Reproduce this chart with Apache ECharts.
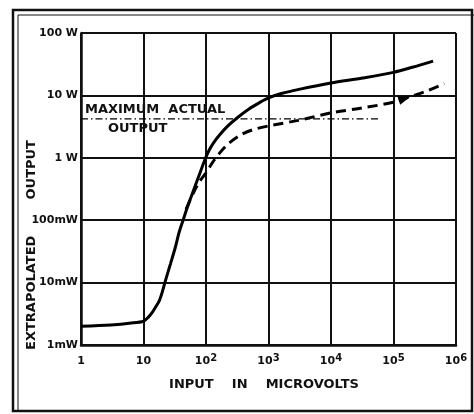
<!DOCTYPE html>
<html>
<head>
<meta charset="utf-8">
<script src="https://cdn.jsdelivr.net/npm/echarts@6/dist/echarts.min.js"></script>
<style>
  html, body { margin: 0; padding: 0; background: #fff; }
  #chart { width: 474px; height: 414px; }
</style>
</head>
<body>
<div id="chart"></div>
<script>
// Input level in microvolts vs. extrapolated output power in watts
const solidCurve = [
  [1, 0.002], [3, 0.00209], [6, 0.00224], [10, 0.0024], [12, 0.0028],
  [14, 0.0034], [16, 0.0042], [18, 0.0052], [20, 0.0071], [23, 0.0117],
  [27, 0.02], [32, 0.0355], [37, 0.063], [43, 0.1], [50, 0.158],
  [63, 0.3], [79, 0.55], [96, 0.93], [112, 1.32], [132, 1.74],
  [166, 2.34], [224, 3.24], [324, 4.47], [500, 6.17], [708, 7.6],
  [1000, 9.1], [1600, 10.7], [3200, 12.6], [10000, 15.8], [32000, 19],
  [100000, 23.4], [200000, 28.2], [430000, 35.5]
];
const dashedCurve = [
  [48, 0.15], [63, 0.275], [79, 0.417], [100, 0.575], [126, 0.83],
  [166, 1.2], [224, 1.66], [347, 2.29], [562, 2.82], [1000, 3.24],
  [3000, 3.98], [10000, 5.25], [32000, 6.3], [100000, 7.76],
  [160000, 9.1], [320000, 11.5], [650000, 15.5]
];
const maxActualOutput = [[1, 4.2], [60000, 4.2]];
const arrowPoint = [150000, 8.9];
const yTickLabels = { '-3': '1mW', '-2': '10mW', '-1': '100mW', '0': '1 W', '1': '10 W', '2': '100 W' };
const xTitle = 'INPUT    IN    MICROVOLTS';
const yTitle = 'EXTRAPOLATED        OUTPUT';
const noteLines = ['MAXIMUM  ACTUAL', 'OUTPUT'];

const font = '"DejaVu Sans", "Liberation Sans", sans-serif';
const ink = '#111';
const chart = echarts.init(document.getElementById('chart'), null, { renderer: 'canvas' });

chart.setOption({
  backgroundColor: '#ffffff',
  animation: false,
  grid: { left: 81, right: 18, top: 33, bottom: 69, show: false },
  graphic: [
    // double page frame
    { type: 'rect', shape: { x: 13, y: 10, width: 459, height: 401 },
      style: { fill: 'none', stroke: ink, lineWidth: 2.5 } },
    { type: 'polyline', shape: { points: [[18, 410], [18, 15], [474, 15]] },
      style: { fill: 'none', stroke: ink, lineWidth: 1 } },
    { type: 'text', x: 85, y: 103,
      style: { text: noteLines[0], fill: ink, font: 'bold 13px ' + font } },
    { type: 'text', x: 108, y: 122,
      style: { text: noteLines[1], fill: ink, font: 'bold 13px ' + font } },
    { type: 'text', x: 32, y: 245, rotation: Math.PI / 2,
      style: { text: yTitle, fill: ink, font: 'bold 13px ' + font,
               textAlign: 'center', textVerticalAlign: 'middle' } },
    { type: 'text', x: 264, y: 385,
      style: { text: xTitle, fill: ink, font: 'bold 13px ' + font,
               textAlign: 'center', textVerticalAlign: 'middle' } }
  ],
  xAxis: {
    type: 'log', logBase: 10, min: 1, max: 1000000,
    axisLine: { show: true, lineStyle: { color: ink, width: 2.5 } },
    axisTick: { show: false },
    splitLine: { show: true, lineStyle: { color: ink, width: 2 } },
    axisLabel: {
      color: ink, fontFamily: font, fontWeight: 'bold', fontSize: 11, margin: 8,
      formatter: function (v) {
        const e = Math.round(Math.log10(v));
        if (e === 0) return '{b|1}';
        if (e === 1) return '{b|10}';
        return '{b|10}{s|' + e + '}';
      },
      rich: {
        b: { fontSize: 11, fontWeight: 'bold', fontFamily: font, color: ink,
             verticalAlign: 'bottom', lineHeight: 14 },
        s: { fontSize: 10, fontWeight: 'bold', fontFamily: font, color: ink,
             verticalAlign: 'top', lineHeight: 12 }
      }
    }
  },
  yAxis: {
    type: 'log', logBase: 10, min: 0.001, max: 100,
    axisLine: { show: true, lineStyle: { color: ink, width: 2.5 } },
    axisTick: { show: false },
    splitLine: { show: true, lineStyle: { color: ink, width: 2 } },
    axisLabel: {
      color: ink, fontFamily: font, fontWeight: 'bold', fontSize: 11, margin: 3,
      formatter: function (v) { return yTickLabels[String(Math.round(Math.log10(v)))]; }
    }
  },
  series: [
    {
      name: 'solid', type: 'line', data: solidCurve, smooth: 0.3, symbol: 'none',
      lineStyle: { color: '#000', width: 3 }, z: 5
    },
    {
      name: 'dashed', type: 'line', data: dashedCurve, smooth: 0.3, symbol: 'none',
      lineStyle: { color: '#000', width: 3, type: [10, 6] }, z: 5,
      markPoint: {
        symbol: 'triangle', symbolSize: [9, 12], symbolRotate: -72,
        itemStyle: { color: '#000' }, label: { show: false },
        data: [{ coord: arrowPoint }]
      }
    },
    {
      name: 'max', type: 'line', data: maxActualOutput, symbol: 'none',
      lineStyle: { color: '#000', width: 1.4, type: [7, 3, 1.5, 3] }, z: 4
    }
  ]
});
</script>
</body>
</html>
